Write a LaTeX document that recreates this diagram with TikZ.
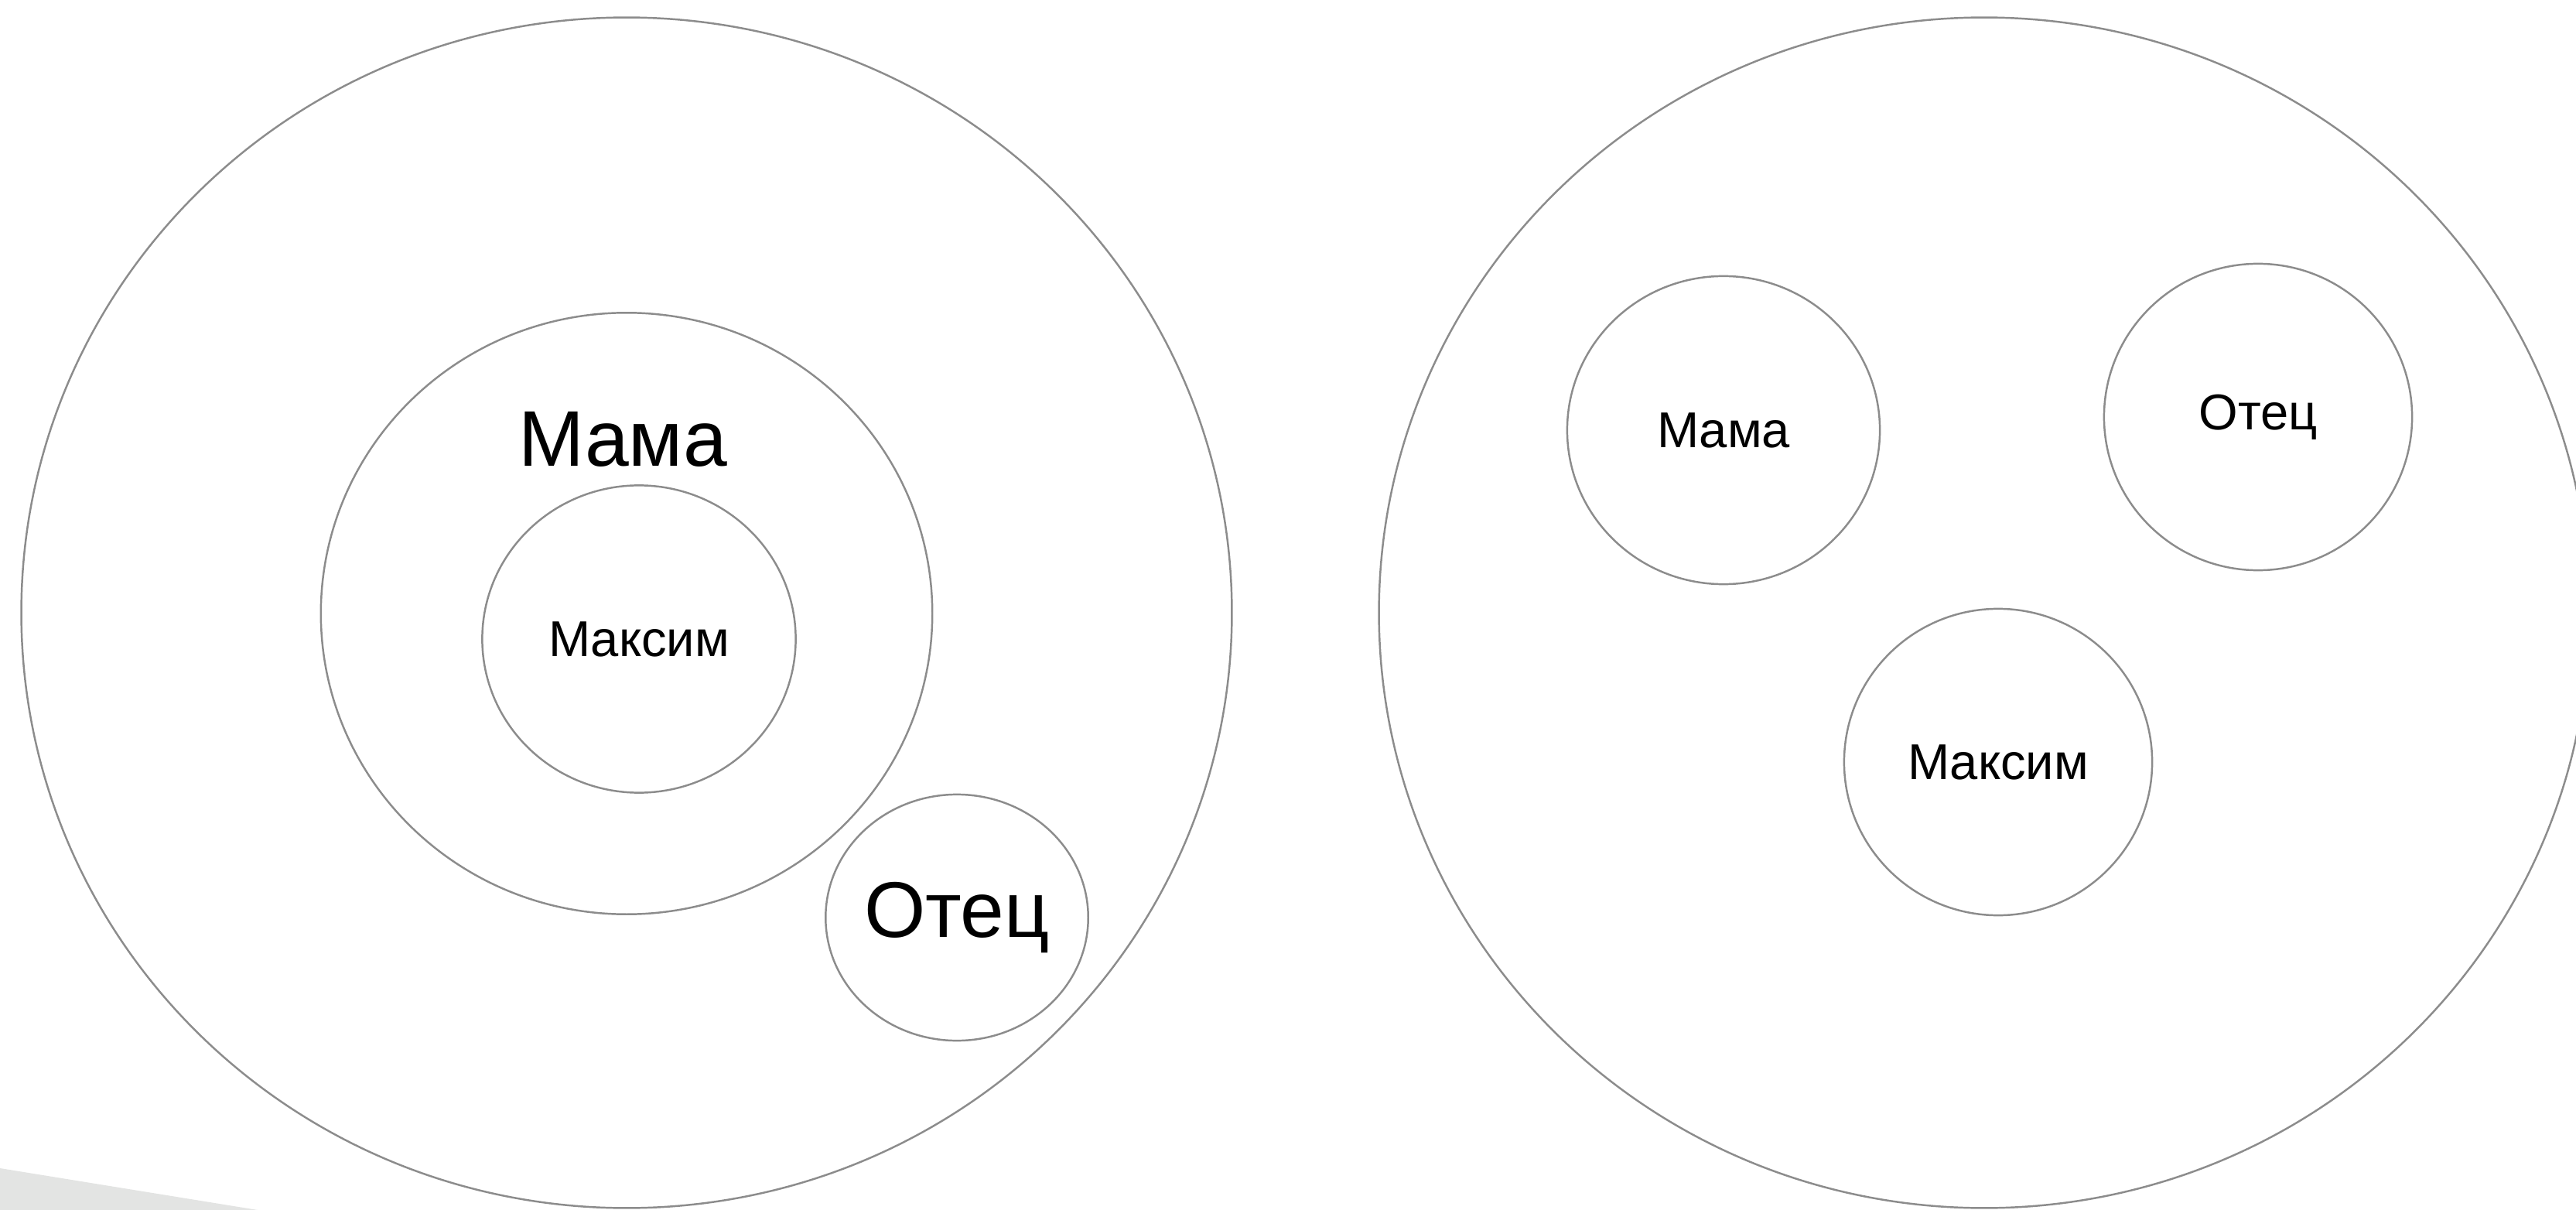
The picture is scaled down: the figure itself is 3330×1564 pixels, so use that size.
\documentclass[tikz,border=0pt]{standalone}
\usepackage{fontspec}
\setmainfont{Liberation Sans}
\usetikzlibrary{shapes.geometric}
\definecolor{linegray}{RGB}{140,140,140}
\definecolor{wedgegray}{RGB}{227,228,227}

\begin{document}
\begin{tikzpicture}[x=0.01cm,y=-0.01cm,
        ring/.style={draw=linegray,line width=0.7pt,ellipse,inner sep=0pt},
        bigword/.style={font=\fontsize{29}{31}\selectfont},
        word/.style={font=\fontsize{18.5}{20}\selectfont}]
            \useasboundingbox (0,0) rectangle (3330,1564);
            \fill[wedgegray] (0,1510) -- (333,1564) -- (0,1564) -- cycle;
            % left: one inside the other
            \node[ring,minimum width=15.64cm,minimum height=15.38cm] (family) at (810,792) {};
            \node[ring,minimum width=7.90cm,minimum height=7.77cm] (mama) at (810,793) {};
            \node[bigword,anchor=base] (mamatext) at (805,602) {Мама};
            \node[ring,word,minimum width=4.05cm,minimum height=3.97cm] (maksim) at (826,826) {Максим};
            \node[ring,bigword,minimum width=3.20cm,minimum height=3.18cm] (otets) at (1237,1186) {Отец};
            % right: side by side
            \node[ring,minimum width=15.64cm,minimum height=15.38cm] (family2) at (2565,792) {};
            \node[ring,word,minimum width=4.04cm,minimum height=3.98cm] (mama2) at (2228,556) {Мама};
            \node[ring,word,minimum width=3.98cm,minimum height=3.96cm] (otets2) at (2919,539) {Отец};
            \node[ring,word,minimum width=3.98cm,minimum height=3.96cm] (maksim2) at (2583,985) {Максим};
\end{tikzpicture}
\end{document}
